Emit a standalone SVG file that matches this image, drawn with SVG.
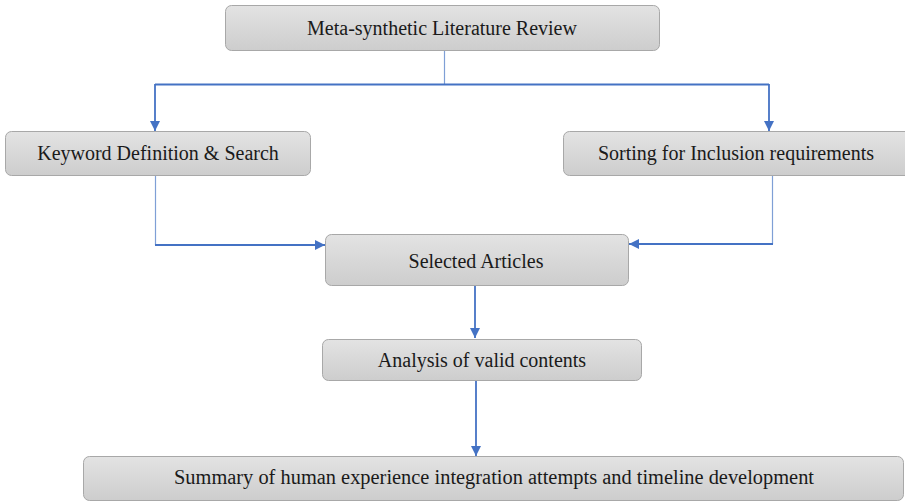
<svg xmlns="http://www.w3.org/2000/svg" width="905" height="502" viewBox="0 0 905 502">
<defs>
<linearGradient id="g" x1="0" y1="0" x2="0" y2="1">
<stop offset="0" stop-color="#e3e3e3"/>
<stop offset="1" stop-color="#cdcdcd"/>
</linearGradient>
<marker id="ah" viewBox="0 0 10 10" refX="10" refY="5" markerWidth="11" markerHeight="10" markerUnits="userSpaceOnUse" orient="auto">
<path d="M0,0 L10,5 L0,10 Z" fill="#4472c4"/>
</marker>
<style>
.box{fill:url(#g);stroke:#a8a8a8;stroke-width:1}
.t{font-family:"Liberation Serif","Times New Roman",serif;font-size:20px;fill:#1a1a1a;text-anchor:middle}
.c{fill:none;stroke:#4472c4;stroke-width:1.8}
.thin{fill:none;stroke:#7f9fd6;stroke-width:1.2}
</style>
</defs>
<rect width="905" height="502" fill="#ffffff"/>
<g id="connectors">
<path class="thin" d="M444.5,50 V85"/>
<path class="c" d="M155,84.5 H769"/>
<path class="c" d="M155,84 V131" marker-end="url(#ah)"/>
<path class="c" d="M769,84 V131" marker-end="url(#ah)"/>
<path class="thin" d="M155.5,175 V245"/>
<path class="c" d="M155,245 H325" marker-end="url(#ah)"/>
<path class="thin" d="M772.5,175 V244"/>
<path class="c" d="M773,244 H629" marker-end="url(#ah)"/>
<path class="c" d="M475,286 V338" marker-end="url(#ah)"/>
<path class="c" d="M476,380 V456" marker-end="url(#ah)"/>
</g>
<g id="n-review">
<rect class="box" x="225.5" y="5.5" width="434" height="45" rx="6"/>
<text class="t" x="442" y="35">Meta-synthetic Literature Review</text>
</g>
<g id="n-keyword">
<rect class="box" x="5.5" y="131.5" width="305" height="44" rx="6"/>
<text class="t" x="158" y="160">Keyword Definition &amp; Search</text>
</g>
<g id="n-sorting">
<rect class="box" x="563.5" y="131.5" width="350" height="44" rx="6"/>
<text class="t" x="736" y="160">Sorting for Inclusion requirements</text>
</g>
<g id="n-selected">
<rect class="box" x="325.5" y="234.5" width="303" height="51" rx="6"/>
<text class="t" x="476" y="268">Selected Articles</text>
</g>
<g id="n-analysis">
<rect class="box" x="322.5" y="339.5" width="319" height="41" rx="6"/>
<text class="t" x="482" y="367">Analysis of valid contents</text>
</g>
<g id="n-summary">
<rect class="box" x="83.5" y="456.5" width="820" height="44" rx="6"/>
<text class="t" x="494" y="484" textLength="640" lengthAdjust="spacingAndGlyphs">Summary of human experience integration attempts and timeline development</text>
</g>
</svg>
